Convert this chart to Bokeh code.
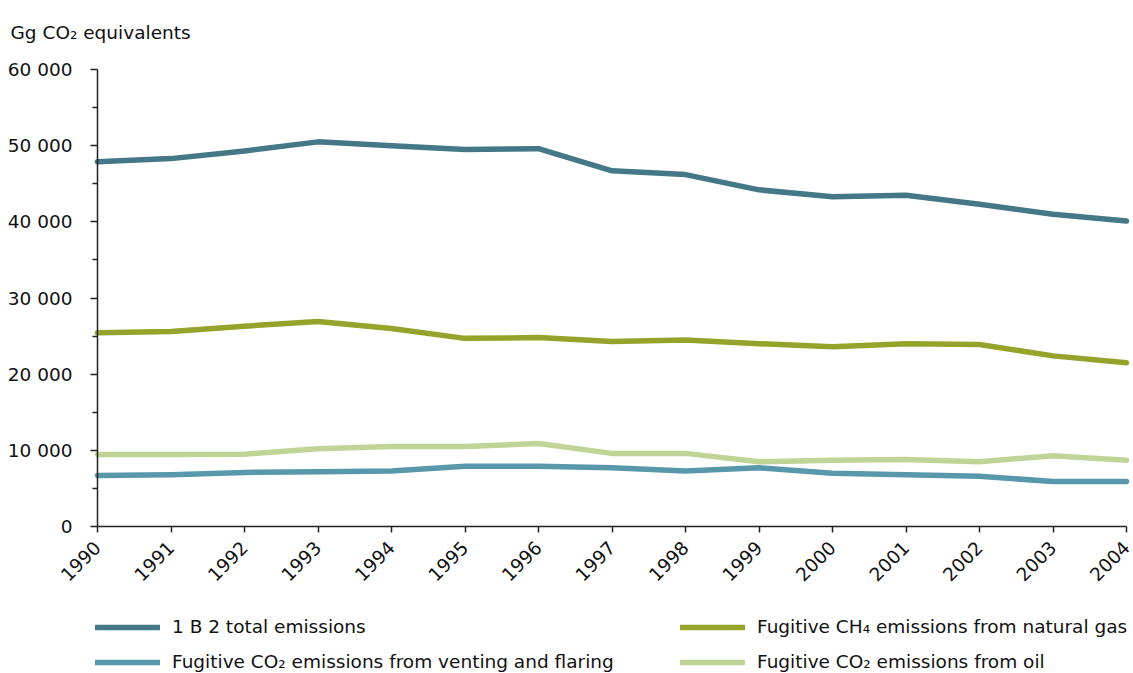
from bokeh.plotting import figure
from bokeh.models import (Range1d, FixedTicker, CustomJSTickFormatter, Legend, LegendItem,
                          LinearAxis, Label)
from bokeh.embed import file_html
from bokeh.resources import INLINE
import math

years = list(range(1990, 2005))
total = [47900, 48300, 49300, 50500, 50000, 49500, 49600, 46700, 46200, 44200, 43300, 43500, 42300, 41000, 40100]
ch4_gas = [25450, 25600, 26300, 26900, 26000, 24700, 24800, 24300, 24500, 24000, 23600, 24000, 23900, 22400, 21500]
co2_vent = [6700, 6800, 7100, 7200, 7300, 7900, 7900, 7700, 7300, 7700, 7000, 6800, 6600, 5900, 5900]
co2_oil = [9450, 9450, 9500, 10200, 10500, 10500, 10900, 9600, 9600, 8500, 8700, 8800, 8500, 9300, 8700]

names = ["1 B 2 total emissions", "Fugitive CH\u2084 emissions from natural gas",
         "Fugitive CO\u2082 emissions from venting and flaring", "Fugitive CO\u2082 emissions from oil"]
colors = ["#457887", "#96A32A", "#5898AA", "#C0D498"]
y_ticks = [0, 10000, 20000, 30000, 40000, 50000, 60000]
y_minor = [5000, 15000, 25000, 35000, 45000, 55000]

FONT = "DejaVu Sans"
FS = "18.5px"
W, H = 1133, 673
# pixel layout of the plotting area inside the canvas
X0, X1 = 97, 1126      # 1990 .. 2004
Y0, Y1 = 526, 69       # 0 .. 60000
xs = (years[-1] - years[0]) / (X1 - X0)
ys_ = (y_ticks[-1] - y_ticks[0]) / (Y0 - Y1)

p = figure(width=W, height=H, output_backend="svg", toolbar_location=None,
           x_range=Range1d(years[0] - X0 * xs, years[-1] + (W - X1) * xs),
           y_range=Range1d(-(H - Y0) * ys_, y_ticks[-1] + Y1 * ys_),
           x_axis_location=None, y_axis_location=None,
           min_border=0)
p.outline_line_color = None
p.grid.grid_line_color = None

xaxis = LinearAxis(fixed_location=0, bounds=(years[0], years[-1]))
yaxis = LinearAxis(fixed_location=years[0], bounds=(y_ticks[0], y_ticks[-1]))
p.add_layout(xaxis, "below")
p.add_layout(yaxis, "left")

for ax in (xaxis, yaxis):
    ax.axis_line_color = "#222222"
    ax.axis_line_width = 1.5
    ax.major_tick_line_color = "#222222"
    ax.minor_tick_line_color = "#222222"
    ax.major_tick_line_width = 1.5
    ax.minor_tick_line_width = 1.5
    ax.major_label_text_font = FONT
    ax.major_label_text_font_size = FS
    ax.major_label_text_color = "#111111"
    ax.major_tick_in = 0

xaxis.ticker = FixedTicker(ticks=years)
xaxis.major_tick_out = 6
xaxis.major_label_orientation = math.pi / 4
xaxis.major_label_standoff = 12
xaxis.minor_tick_line_color = None

yaxis.ticker = FixedTicker(ticks=y_ticks, minor_ticks=y_minor)
yaxis.major_tick_out = 7
yaxis.minor_tick_out = 5
yaxis.minor_tick_in = 0
yaxis.major_label_standoff = 18
yaxis.formatter = CustomJSTickFormatter(code="""
return Math.round(tick).toString().replace(/\\B(?=(\\d{3})+(?!\\d))/g, " ");
""")

series = [total, ch4_gas, co2_vent, co2_oil]
renderers = []
for vals, c in zip(series, colors):
    r = p.line(years, vals, line_color=c, line_width=5.5, line_cap="round", line_join="round")
    renderers.append(r)

def make_legend(items, loc):
    return Legend(items=items, location=loc, orientation="vertical",
                  glyph_width=65, glyph_height=20, label_height=20,
                  spacing=14, label_standoff=12, padding=0, margin=0,
                  border_line_color=None, background_fill_alpha=0,
                  label_text_font=FONT, label_text_font_size=FS, label_text_color="#111111")

leg_l = make_legend([LegendItem(label=names[0], renderers=[renderers[0]]),
                     LegendItem(label=names[2], renderers=[renderers[2]])], (95, 1))
leg_r = make_legend([LegendItem(label=names[1], renderers=[renderers[1]]),
                     LegendItem(label=names[3], renderers=[renderers[3]])], (680, 1))
p.add_layout(leg_l)
p.add_layout(leg_r)

title = Label(x=10, y=H - 32, x_units="screen", y_units="screen", text="Gg CO\u2082 equivalents",
              text_font=FONT, text_font_size=FS, text_color="#111111", text_baseline="alphabetic")
p.add_layout(title)

open("out.html", "w").write(file_html(p, INLINE))
